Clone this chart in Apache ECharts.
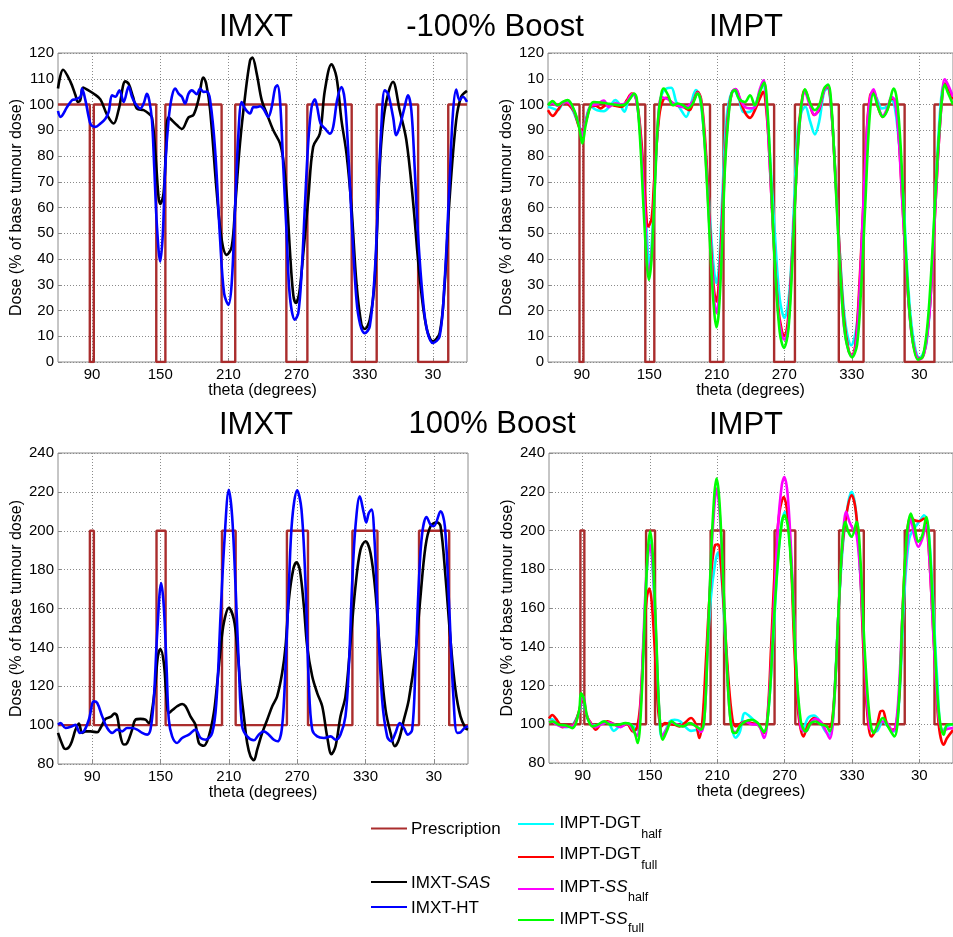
<!DOCTYPE html>
<html><head><meta charset="utf-8">
<script src="https://cdn.jsdelivr.net/npm/echarts@6.0.0/dist/echarts.min.js"></script>
<style>html,body{margin:0;padding:0;background:#fff}#c{width:953px;height:937px}</style>
</head><body><div id="c"></div>
<script>
// ---------- DATA ----------
const xTickValues = [90, 150, 210, 270, 330, 390];   // 390 is shown as 30
const presNotchStart = [88, 146.5, 204, 261, 318.5, 377];
const presNotchEnd   = [91.5, 154.5, 216, 279.5, 340.5, 403.5];
const presBaseDose = 100;
const presTopPanelDose = 0;     // -100% boost
const presBottomPanelDose = 200; // +100% boost

// Top-left: IMXT, -100% boost
const tlSAS = [[60,106.2],[64.5,113.5],[71,108.8],[75.4,103.6],[77.5,101],[79.5,101.5],[82.1,106.6],[85.6,105.8],[91.5,104.2],[97.3,102],[103.2,96],[109,92.6],[113.4,98],[119.3,109],[122.2,108],[126,103],[129.5,98.4],[135.4,97.8],[139.8,96.5],[142.7,95],[145.6,82],[148.5,64],[150,61.4],[152.9,65.5],[155,82],[157.3,95],[164.6,92],[169,90.5],[174.9,95],[179.3,96],[183.7,102],[188,110.5],[190.5,108],[193.9,97.8],[199.8,65.5],[204.1,47.4],[208.5,41.6],[212.9,44.8],[215.9,60.3],[220.2,84.9],[224.6,103],[229,117],[231.1,118.2],[234.9,112],[239.3,101.7],[243.7,96.5],[249.5,90],[255.4,84.9],[258.3,78.4],[261.2,65.5],[264.1,43.5],[267.1,26],[269.4,22.9],[272.3,26.7],[275.9,42.2],[280.2,62.9],[284.6,83.6],[290.5,88.7],[294.9,105.5],[300.7,115.6],[305.1,110.7],[309.5,93.9],[313.9,81],[318.3,60.3],[322.7,30.6],[327.1,14.5],[330,12.8],[334.4,16.4],[338.8,31.9],[343.2,75.8],[347.6,97.8],[354.9,108.8],[360.7,97.8],[366.6,86.2],[372.4,62.9],[378.3,33.2],[384.1,13.8],[390,8],[395.9,11.2],[400.2,29.3],[404.6,62.9],[410.5,93.9],[414.9,103],[420,105.3]];
const tlHT = [[60,97.5],[62.2,95.2],[68,99],[72.4,101.7],[75.4,102],[79.8,103],[81.2,106.2],[84.1,101.7],[87.1,95],[89.1,92],[92.9,91.3],[97.3,92.6],[101.7,94.5],[104.6,97.1],[107.6,103.6],[110.5,103],[114,105.5],[117.8,101],[122.2,107],[125.1,103],[128,100.4],[132.4,98.4],[135.4,100.4],[138.3,104.2],[140.3,101.7],[142.7,93.9],[144.7,75.8],[147.1,52.6],[150,39],[152.3,50],[154.4,75.8],[157.3,93.9],[160.2,103],[163.2,106.2],[166.1,104.2],[169,103],[171.9,100.4],[174.9,104.2],[177.8,105.5],[182.2,104],[185.1,106.2],[188,104.9],[191,105],[193.9,101.7],[198.3,82.3],[202.7,47.4],[206.2,26.7],[210,22.2],[212.9,30.6],[215.9,60.3],[218.8,88.7],[221.7,101],[224.6,98.4],[229,96.5],[232,99],[234.9,99],[237.8,99.3],[240.7,98.4],[245.1,95.2],[248.1,99],[251,106.2],[253,107.5],[255.4,101.7],[258.3,75.8],[261.2,50],[264.1,25.4],[268.5,16.4],[271.5,19],[274.4,34.5],[277.3,60.3],[280.2,84.9],[283.2,99],[286.1,102],[288.1,99],[291.1,92.6],[294.9,90.7],[299.3,88.7],[302.2,91.3],[305.7,101.7],[309.5,106.8],[312.4,101.7],[315.4,82.3],[318.3,56.4],[322.7,24.2],[326,14.5],[330,11.2],[334.4,13.8],[338.8,34.5],[341.7,62.9],[344.6,91.3],[347.6,105.5],[350.5,104.2],[354.9,95.2],[357.8,88.1],[360.7,91.3],[365.1,99],[368,103.6],[371,97.8],[373.9,75.8],[376.8,50],[381.2,24.2],[385,12],[390,7.4],[395.9,9.9],[400.2,30.6],[404.6,69.4],[407.6,96.5],[410.5,105.8],[413.4,101.7],[416.3,103],[420,101]];

// Top-right: IMPT, -100% boost
const trDGThalf = [[60,99.1],[64.2,98.5],[68.6,97.8],[74.5,100.8],[80.3,99.1],[86.2,93.3],[90.6,89.4],[93.5,94],[97.9,99.1],[103.7,97.8],[109.6,97.4],[115.5,99.7],[119.8,101.7],[124.2,99.7],[128,97.2],[131.6,101.7],[136,103.6],[138.9,101],[141.8,90.7],[144.8,71.3],[147.7,50.7],[150,37],[152.1,45],[155,71.3],[157.9,93.3],[160.8,103.6],[165.2,106.2],[169.6,106.5],[174,101],[178.4,97.8],[182.8,95.2],[187.2,100.4],[191.5,105.6],[194.5,103.6],[197.4,94.6],[201.8,71.3],[204.8,50.7],[207.7,35.2],[209.8,30.6],[212.1,37.7],[215,64.9],[218,90.7],[220.8,101],[225.2,105.6],[229.6,102.3],[234,97],[239.6,97.2],[243.9,99.7],[248.3,104.9],[251.2,107.7],[254.2,99.7],[257.1,81.7],[261.5,50.7],[265.9,24.8],[270.2,17.1],[274.6,27.4],[278.4,58.4],[281.9,89.4],[285.4,97.2],[288.7,99.1],[293.1,93.3],[297.2,88.4],[301,93.3],[305.4,104.9],[308.4,106.2],[311.9,97.2],[315.7,71.3],[320.1,37.7],[324.5,14.5],[329.5,6.5],[334.1,13.1],[337.6,32.6],[341.1,64.9],[345,94.6],[348.7,104.3],[352.3,102.3],[356.7,98.5],[361,99.1],[365.4,101.7],[368.4,98.5],[372.2,84.2],[375.7,64.9],[380.1,30.1],[384.5,9.9],[390.3,1.6],[396.2,6.7],[400.6,30.1],[404.4,64.9],[408.5,97.2],[412.3,108.1],[415.2,107],[420,103]];
const trDGTfull = [[60,97.8],[64.2,95.6],[68.6,97.8],[74.5,101],[78.9,99.7],[83.3,97.2],[87.6,91.3],[90.6,90],[93.5,93.3],[97.9,99.1],[102.3,99.5],[106.7,98.5],[111.1,99.7],[115.5,100],[119.8,99.5],[125.7,99.1],[130.1,101.7],[134.5,104.3],[137.4,103.6],[140.4,97.2],[143.3,84.2],[146.2,64.9],[149.2,52.6],[152.1,55.8],[154.1,68.7],[156.5,84.2],[159.4,97.2],[162.3,101.7],[165.2,102.6],[169.6,101],[174,99.7],[179.9,99.1],[185.7,97.8],[190.1,102.3],[193,104.9],[196,102.3],[198.9,90.7],[201.8,71.3],[204.8,45.5],[207.7,27.4],[209.8,23.5],[212.1,32.6],[215,58.4],[217.4,80.4],[220.3,97.2],[223.8,104.9],[226.8,105.9],[231.2,101],[235.6,96.5],[239.6,94.8],[243.9,97.8],[248.3,102.3],[251.2,104.9],[254.2,97.2],[257.1,77.8],[260,52],[264.4,22.2],[267.9,11.9],[270.2,10],[273.2,15.8],[276.7,39],[280.5,71.3],[283.4,93.3],[286.4,103.6],[288.4,105.6],[292.2,101],[296.6,95.9],[301,98],[305.4,105.6],[308.4,106.8],[311.3,101],[314.8,77.8],[318.6,48.1],[323,17.1],[327.4,4.2],[330.3,2.6],[333.2,6.7],[336.2,24.8],[340,58.4],[343.5,90.7],[346.4,103.6],[349.3,104.9],[353.7,98.5],[357.5,95.2],[361.6,98],[365.4,102.3],[368.4,101.7],[371.3,90.7],[374.2,68.7],[378.6,35.2],[383,11.9],[387.4,2.2],[390.9,1.2],[394.7,4.2],[399.1,19.7],[402.6,45.5],[406.4,77.8],[410.2,102.3],[412.6,108.1],[415.2,106.8],[420,102]];
const trSShalf = [[60,100],[64,100.5],[68.6,99.5],[74.5,101],[79,100.5],[83.3,97.5],[87.6,92],[90.6,88],[93.5,93],[97.9,99.5],[103,100],[109.6,101.5],[114,99],[119.8,100.5],[125,100],[130,101],[134.5,104],[137.4,103.5],[140.4,96],[143.3,80],[146.2,58],[149.2,34],[152.1,42],[155,70],[157.9,94],[160.8,103],[163.5,102.5],[167,102],[171,100.5],[176,99.5],[180,99],[185,99.5],[190,102],[193,104.5],[196,101.5],[198.9,88],[201.8,67],[204.8,42],[207.7,24],[209.8,19],[212.1,26],[215,52],[217.4,78],[220.3,96],[223.8,105],[226.8,106],[231,102],[235,99],[239.6,98.5],[243.9,99],[248.3,106],[251.6,109.4],[254.5,98],[257.3,75],[260.5,48],[264.4,20],[268,10],[270.2,8.7],[273.5,14],[277,40],[281,75],[284.5,96],[288.4,104.9],[292.5,100],[297,95.9],[301,98.5],[305.4,105.5],[308.6,107.2],[311.6,100],[315.2,74],[319,42],[323,14],[327.4,4],[330.3,2.5],[333.5,6],[336.5,24],[340,58],[343.5,90],[346.5,103],[349.3,105.9],[353.7,99],[357.5,95.6],[361.6,98.5],[365.4,103],[368.4,101.5],[371.3,90],[374.2,68],[378.6,35],[383,11.5],[387.4,2.2],[390.3,1],[394.7,4],[399.1,19],[402.6,45],[406.4,78],[410.2,102.3],[412.6,109.8],[415.2,108],[420,103]];
const trSSfull = [[60,99.7],[64.2,101.3],[68.6,99.7],[73,101],[77.4,101.7],[83.3,97.8],[87.6,91.3],[90.6,84.9],[93.5,92],[97.9,99.7],[100.8,101],[106.7,100.8],[112.5,100.4],[118.4,100],[124.2,99.7],[128.6,100],[133,102.3],[136.6,104.3],[138.9,102.3],[141.8,86.8],[144.8,61],[147.7,39],[149.7,31.9],[152.1,40.3],[155,68],[157.9,94.6],[160.8,104.3],[162.9,106.2],[166.7,103.6],[171.1,99.7],[175.5,100.4],[179.9,99.7],[184.3,98.5],[188.7,100.4],[193,104.3],[196,101],[198.9,86.8],[201.8,64.9],[204.8,39],[207.7,19.7],[209.8,13.5],[212.1,21],[215,48.1],[217.4,76.5],[220.3,94.6],[223.2,104.3],[226.2,105.6],[229.6,102.3],[235.1,101],[239.6,103.6],[243.9,99.7],[248.3,104.9],[252.1,108.5],[255,98.5],[258,72.6],[261.5,39],[265.9,11.9],[269.7,5.5],[273.8,13.1],[277.6,42.9],[281.4,77.8],[284.9,98.5],[288.4,105.9],[293.1,100.4],[297.2,97.8],[301,99.7],[305.4,106.2],[308.9,107.7],[311.9,99.7],[315.7,68.7],[320.1,32.6],[324.5,9.4],[330.3,1.8],[334.7,6.7],[338.2,27.4],[342,60.9],[345.8,94.6],[349.3,104.3],[353.7,98.5],[357.5,95.2],[361.6,97.8],[367.5,106.2],[370.4,101],[373.4,84.2],[378,42.9],[383,11.9],[388.9,0.9],[393.2,2.2],[397.6,15.8],[402,45.5],[406.4,80.4],[410.2,102.3],[412.6,107.7],[415.2,104.9],[420,100]];

// Bottom-left: IMXT, +100% boost
const blSAS = [[60,96],[65.1,88.2],[66.6,87.7],[71,90],[75.4,97.7],[78.3,100.8],[81.2,96],[84.1,96.8],[88.5,96.8],[94.4,96.3],[97.3,98.5],[101.7,103.2],[106.1,104.2],[109.6,105.9],[112,104.5],[114.9,94.2],[117.8,90],[120.7,90.8],[125.1,97.7],[128,102.8],[132.4,103.2],[136.8,102.8],[139.8,101],[142.7,108],[145.6,121.7],[147.7,135.4],[150,139.2],[152.9,132],[155,116.5],[157.3,106.2],[160.2,107.6],[164.6,109.7],[169,110.9],[172,109.7],[176.3,104.5],[180.7,100.2],[183.7,90.8],[188,89.4],[192.4,94.2],[196.8,106.2],[199.8,121.7],[202.7,138.8],[205.6,152.5],[210,160.3],[214.4,154.3],[217.3,140.5],[220.2,120],[223.2,104.5],[226.1,90.8],[229,84],[232,81.9],[234.9,87.4],[239.3,96],[243.7,102.8],[248.1,109.7],[252.4,114.8],[256.8,126.8],[259.8,140.5],[262.7,164.5],[266.5,180],[269.4,183.8],[272.3,180],[275.9,161.1],[278.8,140.5],[283.2,125.1],[287.6,116.5],[292,109.7],[296.3,94.2],[300.1,85.1],[303.7,89.1],[308,104.5],[312.4,114.8],[316.8,142.3],[321.2,171.4],[325.6,190.3],[330,194.6],[334.4,188.6],[338.8,168],[343.2,133.7],[347.6,108],[352,96],[355.8,89.1],[359.3,92.5],[363.7,102.8],[368,113.1],[373.9,137.1],[378.3,166.3],[382.7,192],[387.1,202.3],[392.9,204.3],[395.9,202.3],[400.2,176.6],[404.6,144],[409,118.2],[413.4,104.5],[417.8,98.5],[420,97.7]];
const blHT = [[60,100.2],[62.2,101.1],[66.6,98.5],[72.4,99.4],[75.4,100.2],[79.2,96],[82.7,96.8],[87.1,102.8],[91.5,112.2],[94.4,111.4],[98.8,104.5],[103.2,98.5],[107.6,96],[112,97.7],[116.3,96.8],[120.7,98.5],[125.1,98.5],[129.5,97.7],[133.9,96],[138.3,95.1],[141.2,97.7],[144.1,113.1],[147.1,147.4],[150.6,173.1],[152.9,161.1],[155.3,130.2],[157.3,102.8],[160.2,94.2],[164.6,90.8],[169,93.4],[174.9,95.1],[180.7,97.7],[185.1,93.4],[189.5,92.5],[195.4,96],[199.2,113.1],[202.7,156],[206.2,195.4],[210,221.1],[212.9,207.4],[215.9,171.4],[218.8,130.2],[221.7,99.4],[226.1,94.2],[232,92.2],[236.3,95.1],[240.7,96.8],[245.1,95.1],[249.5,92.5],[253,91.7],[256.8,99.4],[259.8,130.2],[262.7,171.4],[265.6,205.7],[270,220.8],[273.8,210.9],[277.3,173.1],[280.2,121.7],[283.2,97.7],[287.6,94.2],[293.4,93.4],[299.3,94.2],[303.7,92.5],[308,95.1],[312.4,104.5],[315.4,130.2],[318.3,173.1],[321.2,202.3],[325,217.7],[328.5,209.1],[330.6,204.3],[332.9,209.1],[335.3,210.9],[337.9,195.4],[340.8,156],[344.6,113.1],[349,94.2],[352.5,91.7],[356.3,96],[360.1,101.1],[363.7,98.5],[367.2,95.1],[371,97.7],[373.9,130.2],[376.8,173.1],[379.8,198.8],[383.6,207.1],[387.1,203.1],[390,202.3],[395.9,210],[399.7,202.3],[403.2,164.5],[407,116.5],[410.5,96],[413.4,96.3],[416.9,98.5],[420,99.4]];

// Bottom-right: IMPT, +100% boost
const brDGThalf = [[60,103],[63,102.5],[66,101],[70,99],[75,98.5],[80.8,99.5],[86.7,106],[90,113],[93,105],[97.4,100],[101.8,99.5],[106.1,100],[112,101],[117.8,96.6],[123.7,99.5],[129.5,100.3],[134.8,99],[138.3,97],[141.3,108],[144.2,140],[147.1,178],[150,195],[152.5,180],[155.4,140],[158.3,105],[160.3,93.7],[164,97],[167.6,101.5],[172,102.3],[177,101.5],[181,99],[186.6,96.6],[191,97],[194,96],[196.9,101],[199.8,125],[204.2,165],[208,183],[210.7,188.7],[213,182],[216,155],[219.8,120],[223.3,98],[226.2,93],[230,96],[234.6,105.8],[240.5,103.2],[246.3,99.7],[251.6,96.3],[255.7,108.3],[259.5,141],[263.9,183.9],[267.4,204.5],[270.3,209.5],[274.1,198],[278,158.1],[281.5,115.2],[285.9,96.3],[290.8,103.2],[296.1,104.5],[301.4,101.4],[306.4,96.3],[310.2,94.6],[313.7,110],[318,158.1],[322.4,195.9],[326.8,214.8],[329.7,220],[333.5,209.6],[337.6,175.3],[341.4,127.2],[345.8,98],[351.7,96.3],[357.5,101.4],[363.4,98],[367.8,96.3],[372.2,113.5],[376.6,166.7],[381,195.9],[385.4,201],[389.8,204.5],[394.2,207.9],[398,201],[401.5,171.8],[405.9,123.8],[410.3,96.3],[414.7,98.9],[420,100]];
const brDGTfull = [[60,103],[63,104.8],[66,103],[69,100.5],[72,98.5],[75,98.9],[80.8,99.4],[84,102],[86.7,106.6],[89,111.5],[91.1,112],[93,105],[97.4,100.6],[101.8,97.2],[106.1,100.1],[112,101.5],[117.8,100.1],[123.7,98.9],[129.5,100.1],[134.8,96.3],[138.3,98.1],[141.3,110],[144.2,141],[147.1,165],[149.5,170.1],[151.5,163.3],[154.4,137.5],[157.4,106.6],[160.3,98.9],[163.2,100.6],[167.6,100.1],[172,99.7],[176.4,98.9],[180.8,100.6],[186.6,103.2],[191,99.7],[194,92.9],[196.9,103.2],[199.8,132.4],[204.2,175.3],[208,192.5],[210.7,192.8],[213,183.9],[216,158.1],[219.8,123.8],[223.3,103.2],[226.2,98.9],[234.6,101.4],[240.5,100.6],[246.3,99.7],[251.6,95.5],[255,106.6],[258,141],[261.6,183.9],[265.4,209.6],[269.2,217.3],[272.7,207.9],[275.7,183.9],[278.5,141],[282,106.6],[286.7,93.7],[290.8,99.7],[296.1,103.2],[300.5,101.8],[304.9,99.7],[309.3,98.4],[312.2,101.4],[315.2,123.8],[318,158.1],[321,189],[325.4,209.6],[329.7,218.2],[333.5,209.6],[337,183.9],[340,141],[343.5,106.6],[347.3,93.7],[351.7,98],[355.2,106.6],[357.5,107],[360.5,101.4],[364.8,97.2],[368.6,98],[372.2,115.2],[375.7,166.7],[379.5,201],[382.4,207],[385.4,205.3],[389.8,204.8],[394.2,206.2],[397.1,199.3],[400,175.3],[403.8,132.4],[407.3,99.7],[411.7,89.4],[414.7,92.9],[420,97]];
const brSShalf = [[60,101],[63,101.5],[66,100],[70,99],[75,98.8],[80.8,99],[86.7,106],[89,113],[91,114],[93,106],[97.4,100],[101.8,98.5],[106.1,100],[112,101],[117.8,100],[123.7,98.5],[129.5,100.5],[134.8,97],[138.3,94],[141.3,106],[144.2,145],[147.1,180],[150,192.5],[152.5,182],[155.4,145],[158.3,106],[161.3,94],[164.8,97.5],[169.2,101],[173.6,100],[179.4,99],[185.3,100.5],[191,99],[195.5,96],[198.5,103],[201.4,140],[204.4,185],[207.3,212],[209.4,221.7],[211.7,212],[214.6,182],[217.6,140],[220.5,110],[223.4,97],[226.4,96],[230,99],[234.6,101.4],[240.5,100],[246.3,99.7],[251.6,92.9],[255.7,110],[259.5,149.5],[263.9,201],[267.4,223.3],[269.7,227.6],[272.7,218.2],[276.2,183.9],[280,132.4],[284.4,98],[288.8,96.3],[293.2,100.6],[297.6,102.8],[302,101.4],[306.4,97],[310.2,92.6],[313.7,106.6],[318,158.1],[321.8,195.9],[324.8,209.6],[327.7,204.5],[330.6,201],[334.1,197.6],[337.6,175.3],[341.4,132.4],[345.8,98],[350.2,96.3],[356.1,101.4],[360.5,101],[366.3,96.3],[370.7,108.3],[375.1,158.1],[379.5,195.9],[382.4,206.2],[385.4,197.6],[389.2,191.6],[392.7,195.9],[396.2,202.8],[399.1,183.9],[403,141],[407.3,103.2],[411.7,96.3],[414.7,97.5],[420,98]];
const brSSfull = [[60,101],[63,101.4],[69,99.7],[75,99.4],[80.8,98],[86.7,106.6],[88.5,116],[90.9,113.5],[94.4,103.2],[98.8,98.9],[103.2,99.7],[109.1,101.5],[115,99.7],[120.8,99.7],[128.1,100.6],[133.1,99.7],[136.9,94.6],[139,90.3],[141.9,106.6],[144.9,149.5],[147.8,187.3],[150.1,199.7],[152.5,187.3],[155.4,147.8],[158.3,106.6],[161.3,92],[164.8,96.3],[169.2,101.5],[173.6,99.7],[179.4,98.9],[185.3,100.6],[191.2,98.9],[195.5,97.2],[198.5,103.2],[201.4,141],[204.4,187.3],[207.3,218.2],[209.4,226.8],[211.7,216.5],[214.6,183.9],[217.6,141],[220.5,110],[223.4,96.3],[226.4,95.5],[230,99],[234.6,101.4],[240.5,102.3],[246.3,100.5],[251.6,95.9],[255.7,108],[259.5,144.4],[263.9,183.9],[267.4,203.6],[269.7,207.9],[272.7,202.8],[276.2,178.7],[280,132.4],[284.4,101.4],[288.8,96.3],[293.2,100.5],[297.6,101.4],[302,100],[307.3,99],[310.2,96.3],[313.7,108.3],[318,158.1],[321.8,197.6],[323.9,204.5],[326.8,199.3],[329.7,196.8],[334.1,204.5],[337.6,183.9],[341.4,137.5],[345.8,103.2],[349.4,95.5],[353.2,99.7],[357.5,103.2],[362,98.9],[367.8,93.7],[371.6,110],[375.1,158.1],[378.6,195.9],[382.4,208.8],[385.4,202.8],[389.2,194.2],[392.7,197.6],[396.2,207],[399.1,192.5],[403,149.5],[407.3,106.6],[411.7,94.6],[414.7,99.7],[420,100]];

// ---------- STYLE ----------
const FONT = '"Liberation Sans", Arial, Helvetica, sans-serif';
const C = { pres: '#aa2d2d', sas: '#000000', ht: '#0000ff', dgtH: '#00ffff', dgtF: '#ff0000', ssH: '#ff00ff', ssF: '#00ff00' };

function presLine(level) {
  const pts = [[60, presBaseDose]];
  for (let i = 0; i < presNotchStart.length; i++) {
    pts.push([presNotchStart[i], presBaseDose], [presNotchStart[i], level],
             [presNotchEnd[i], level], [presNotchEnd[i], presBaseDose]);
  }
  pts.push([420, presBaseDose]);
  return pts;
}

const grids = [
  { left: 58, top: 53, width: 409, height: 309 },
  { left: 548, top: 53, width: 410, height: 309 },
  { left: 58, top: 453, width: 410, height: 311 },
  { left: 549, top: 453, width: 410, height: 310 }
].map(g => Object.assign({ show: true, borderColor: '#8c8c8c', borderWidth: 1, backgroundColor: '#fff' }, g));

const splitStyle = { show: true, lineStyle: { color: '#8a8a8a', width: 1, type: [1, 2] } };

const xAxes = [0, 1, 2, 3].map(i => ({
  type: 'value', gridIndex: i, min: 60, max: 420,
  axisLine: { show: false },
  axisTick: { show: true, inside: true, length: 4, customValues: xTickValues, lineStyle: { color: '#8c8c8c' } },
  axisLabel: { customValues: xTickValues, fontSize: 15, fontFamily: FONT, color: '#000', margin: 5,
    formatter: v => String(v >= 360 ? v - 360 : v) },
  splitLine: splitStyle,
  name: 'theta (degrees)', nameLocation: 'middle', nameGap: 18,
  nameTextStyle: { fontSize: 16, fontFamily: FONT, color: '#000' }
}));

function yAxis(i, min, max, interval, fmt) {
  return {
    type: 'value', gridIndex: i, min, max, interval,
    axisLine: { show: false },
    axisTick: { show: true, inside: true, length: 4, lineStyle: { color: '#8c8c8c' } },
    axisLabel: { fontSize: 15, fontFamily: FONT, color: '#000', margin: 4, formatter: fmt },
    splitLine: splitStyle,
    name: 'Dose (% of base tumour dose)', nameLocation: 'middle', nameGap: 33,
    nameTextStyle: { fontSize: 16, fontFamily: FONT, color: '#000' }
  };
}
const yAxes = [
  yAxis(0, 0, 120, 10, v => String(v)),
  yAxis(1, 0, 120, 10, v => (v === 110 ? '10' : String(v))),
  yAxis(2, 80, 240, 20, v => String(v)),
  yAxis(3, 80, 240, 20, v => String(v))
];

function ln(name, data, color, idx, opts) {
  return Object.assign({
    type: 'line', name, data, xAxisIndex: idx, yAxisIndex: idx,
    showSymbol: false, symbol: 'none', smooth: 0.35, animation: false,
    lineStyle: { color, width: 2.6 }, itemStyle: { color }
  }, opts || {});
}
function pres(idx, level) {
  return ln('Prescription', presLine(level), C.pres, idx, { smooth: false, lineStyle: { color: C.pres, width: 2.4 } });
}

const series = [
  pres(0, presTopPanelDose), ln('IMXT-SAS', tlSAS, C.sas, 0), ln('IMXT-HT', tlHT, C.ht, 0),
  pres(1, presTopPanelDose), ln('IMPT-DGT half', trDGThalf, C.dgtH, 1), ln('IMPT-DGT full', trDGTfull, C.dgtF, 1),
  ln('IMPT-SS half', trSShalf, C.ssH, 1), ln('IMPT-SS full', trSSfull, C.ssF, 1),
  pres(2, presBottomPanelDose), ln('IMXT-SAS', blSAS, C.sas, 2), ln('IMXT-HT', blHT, C.ht, 2),
  pres(3, presBottomPanelDose), ln('IMPT-DGT half', brDGThalf, C.dgtH, 3), ln('IMPT-DGT full', brDGTfull, C.dgtF, 3),
  ln('IMPT-SS half', brSShalf, C.ssH, 3), ln('IMPT-SS full', brSSfull, C.ssF, 3)
];

// ---------- TITLES & LEGEND (graphic) ----------
function txt(text, x, y, size, align, rich) {
  const style = { text, x, y, fontSize: size, fontFamily: FONT, fill: '#000',
    align: align || 'left', verticalAlign: 'middle', textAlign: align || 'left', textVerticalAlign: 'middle' };
  if (rich) style.rich = rich;
  return { type: 'text', style, silent: true };
}
function seg(x1, x2, y, color) {
  return { type: 'line', shape: { x1, y1: y, x2, y2: y }, style: { stroke: color, lineWidth: 2 }, silent: true };
}
const mctx = document.createElement('canvas').getContext('2d');
function tw(t, font) { mctx.font = font; return mctx.measureText(t).width; }
const LF = 17, SF = 12.5;
const italicRich = { i: { fontStyle: 'italic', fontSize: LF, fontFamily: FONT, fill: '#000' } };
const nFont = LF + 'px ' + FONT, iFont = 'italic ' + LF + 'px ' + FONT;

const legendRight = [
  { color: C.dgtH, y: 824, ty: 823, sy: 834.5, main: 'IMPT-DGT', w: tw('IMPT-DGT', nFont), sub: 'half' },
  { color: C.dgtF, y: 857, ty: 854.5, sy: 865.5, main: 'IMPT-DGT', w: tw('IMPT-DGT', nFont), sub: 'full' },
  { color: C.ssH, y: 889, ty: 887.5, sy: 898, main: 'IMPT-{i|SS}', w: tw('IMPT-', nFont) + tw('SS', iFont), sub: 'half' },
  { color: C.ssF, y: 920, ty: 919, sy: 929, main: 'IMPT-{i|SS}', w: tw('IMPT-', nFont) + tw('SS', iFont), sub: 'full' }
];

const graphics = [
  txt('IMXT', 256, 27.5, 31, 'center'),
  txt('-100% Boost', 495, 27, 31, 'center'),
  txt('IMPT', 746, 27.5, 31, 'center'),
  txt('IMXT', 256, 425.5, 31, 'center'),
  txt('100% Boost', 492, 424.5, 31, 'center'),
  txt('IMPT', 746, 425.5, 31, 'center'),
  seg(371, 407, 828.5, C.pres), txt('Prescription', 411, 829.5, LF),
  seg(371, 407, 882, C.sas), txt('IMXT-{i|SAS}', 411, 883.5, LF, 'left', italicRich),
  seg(371, 407, 907, C.ht), txt('IMXT-HT', 411, 908, LF)
];
legendRight.forEach(it => {
  graphics.push(seg(518, 554, it.y, it.color));
  graphics.push(txt(it.main, 559.5, it.ty, LF, 'left', italicRich));
  graphics.push(txt(it.sub, 559.5 + it.w + 0.5, it.sy, SF));
});

const chart = echarts.init(document.getElementById('c'), null, { renderer: 'canvas' });
chart.setOption({
  backgroundColor: '#fff',
  animation: false,
  textStyle: { fontFamily: FONT },
  grid: grids,
  xAxis: xAxes,
  yAxis: yAxes,
  series,
  graphic: { elements: graphics }
});
</script></body></html>
